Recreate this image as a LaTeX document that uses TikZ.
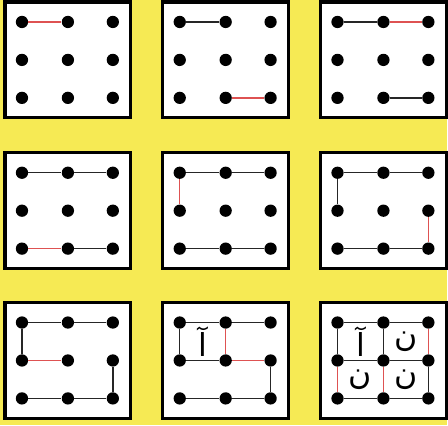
\documentclass[tikz,border=0pt]{standalone}
\usepackage{fontspec}
\usetikzlibrary{calc}
\newfontfamily\arabicfont[Script=Arabic]{DejaVu Sans}
\TeXXeTstate=1
\definecolor{bgyellow}{RGB}{246,234,84}
\definecolor{lred}{RGB}{222,82,82}

\begin{document}
\begin{tikzpicture}[x=0.02cm, y=-0.02cm,
  dot/.style={circle, fill=black, inner sep=0pt, minimum size=7pt},
  boxframe/.style={draw=black, line width=1.9pt, fill=white},
  blk/.style={line width=0.8pt, draw=black!85},
  rd/.style={line width=0.8pt, draw=lred},
  letter/.style={font=\arabicfont\fontsize{18}{18}\selectfont, inner sep=0pt}]

\fill[bgyellow] (0,0) rectangle (448,426);

% one panel: name, left, top
\newcommand{\panel}[3]{%
  \draw[boxframe] (#2,#3) rectangle ++(126,116);
  \foreach \c/\dx in {1/17,2/63,3/108}
    \foreach \r/\dy in {1/20,2/58,3/96}
      \node[dot] (#1-\c-\r) at (#2+\dx,#3+\dy) {};
}

% first row
\panel{a}{5}{2}
\draw[rd] (a-1-1) -- (a-2-1);

\panel{b}{163}{2}
\draw[blk] (b-1-1) -- (b-2-1);
\draw[rd] (b-2-3) -- (b-3-3);

\panel{c}{321}{2}
\draw[blk] (c-1-1) -- (c-2-1);
\draw[rd] (c-2-1) -- (c-3-1);
\draw[blk] (c-2-3) -- (c-3-3);

% second row
\panel{d}{5}{153}
\draw[blk] (d-1-1) -- (d-2-1) (d-2-1) -- (d-3-1);
\draw[rd] (d-1-3) -- (d-2-3);
\draw[blk] (d-2-3) -- (d-3-3);

\panel{e}{163}{153}
\draw[blk] (e-1-1) -- (e-2-1) (e-2-1) -- (e-3-1);
\draw[rd] (e-1-1) -- (e-1-2);
\draw[blk] (e-1-3) -- (e-2-3) (e-2-3) -- (e-3-3);

\panel{f}{321}{153}
\draw[blk] (f-1-1) -- (f-2-1) (f-2-1) -- (f-3-1) (f-1-1) -- (f-1-2);
\draw[blk] (f-1-3) -- (f-2-3) (f-2-3) -- (f-3-3);
\draw[rd] (f-3-2) -- (f-3-3);

% third row
\panel{g}{5}{303}
\draw[blk] (g-1-1) -- (g-2-1) (g-2-1) -- (g-3-1) (g-1-1) -- (g-1-2);
\draw[rd] (g-1-2) -- (g-2-2);
\draw[blk] (g-3-2) -- (g-3-3);
\draw[blk] (g-1-3) -- (g-2-3) (g-2-3) -- (g-3-3);

\panel{h}{163}{303}
\draw[blk] (h-1-1) -- (h-2-1) (h-2-1) -- (h-3-1) (h-1-1) -- (h-1-2) (h-1-2) -- (h-2-2);
\draw[rd] (h-2-1) -- (h-2-2) (h-2-2) -- (h-3-2);
\draw[blk] (h-3-2) -- (h-3-3);
\draw[blk] (h-1-3) -- (h-2-3) (h-2-3) -- (h-3-3);
\node[letter] (h-alef) at ($(h-1-1)!0.5!(h-2-2)$) {\beginR آ\endR};

\panel{k}{321}{303}
\draw[blk] (k-1-1) -- (k-2-1) (k-2-1) -- (k-3-1) (k-1-1) -- (k-1-2) (k-2-1) -- (k-2-2);
\draw[blk] (k-1-2) -- (k-2-2) (k-2-2) -- (k-3-2);
\draw[rd] (k-3-1) -- (k-3-2) (k-1-2) -- (k-1-3) (k-2-2) -- (k-2-3);
\draw[blk] (k-3-2) -- (k-3-3);
\draw[blk] (k-1-3) -- (k-2-3) (k-2-3) -- (k-3-3);
\node[letter] (k-alef) at ($(k-1-1)!0.5!(k-2-2)$) {\beginR آ\endR};
\node[letter] (k-noon1) at ($(k-2-1)!0.5!(k-3-2)$) {\beginR ن\endR};
\node[letter] (k-noon2) at ($(k-1-2)!0.5!(k-2-3)$) {\beginR ن\endR};
\node[letter] (k-noon3) at ($(k-2-2)!0.5!(k-3-3)$) {\beginR ن\endR};
\end{tikzpicture}
\end{document}
